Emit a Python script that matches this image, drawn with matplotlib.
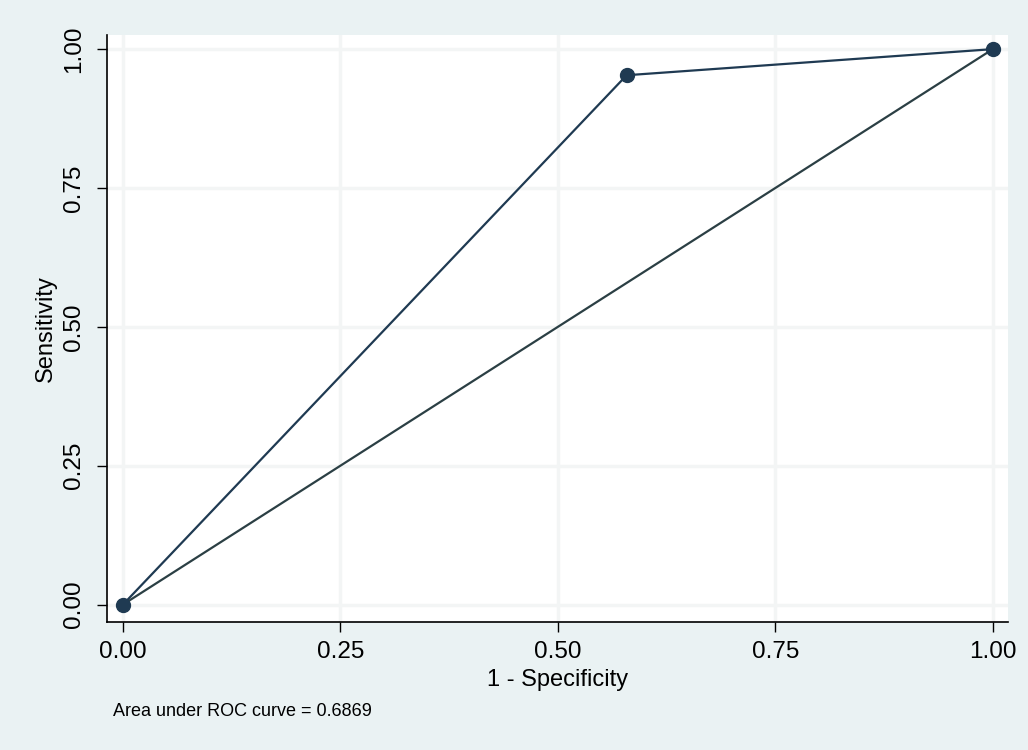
import matplotlib
matplotlib.use('Agg')
import matplotlib.pyplot as plt

# ROC points (1 - specificity, sensitivity)
fpr = [0.0, 0.579, 1.0]
tpr = [0.0, 0.953, 1.0]
ref_line = [0.0, 1.0]
ticks = [0.0, 0.25, 0.5, 0.75, 1.0]
tick_labels = ['0.00', '0.25', '0.50', '0.75', '1.00']
auc_text = 'Area under ROC curve = 0.6869'

plt.rcParams['font.family'] = ['Liberation Sans', 'DejaVu Sans']

bg = '#eaf2f3'
navy = '#1f3a52'

fig = plt.figure(figsize=(10.28, 7.5), dpi=100, facecolor=bg)
ax = fig.add_axes([0.104, 0.171, 0.877, 0.782])
ax.set_facecolor('white')

ax.plot(ref_line, ref_line, color='#2b3f44', lw=1.6, zorder=2)
ax.plot(fpr, tpr, color=navy, lw=1.6, marker='o', ms=10,
        markerfacecolor=navy, markeredgecolor=navy, zorder=3)

ax.set_xlim(-0.0185, 1.018)
ax.set_ylim(-0.031, 1.025)
ax.set_xticks(ticks)
ax.set_xticklabels(tick_labels)
ax.set_yticks(ticks)
ax.set_yticklabels(tick_labels, rotation=90, va='center')
ax.tick_params(labelsize=17.5, length=7, width=1)
ax.tick_params(axis='x', pad=7)
ax.tick_params(axis='y', pad=9)
ax.grid(True, color='#f3f5f5', lw=2.5)
ax.set_axisbelow(True)
for s in ['top', 'right']:
    ax.spines[s].set_visible(False)
for s in ['left', 'bottom']:
    ax.spines[s].set_linewidth(1.2)

ax.set_xlabel('1 - Specificity', fontsize=17, labelpad=4)
ax.set_ylabel('Sensitivity', fontsize=17, labelpad=4)

fig.text(0.11, 0.051, auc_text, fontsize=13, ha='left', va='center')

fig.savefig('out.png', dpi=100, facecolor=bg)
